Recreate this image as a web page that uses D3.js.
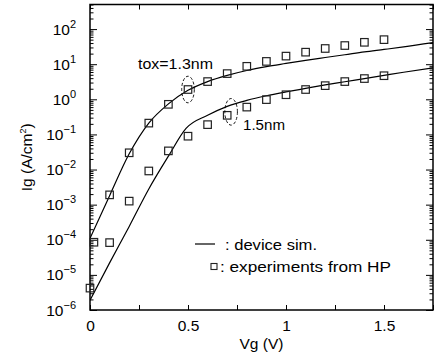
<!DOCTYPE html>
<html><head><meta charset="utf-8">
<script src="https://cdn.jsdelivr.net/npm/d3@7"></script>
<style>
body{margin:0;background:#fff}
svg{display:block}
text{font-family:"Liberation Sans",Arial,Helvetica,sans-serif;fill:#000}
</style>
</head><body>
<svg id="c" width="434" height="358"></svg>
<script>
// ---- data ----
const expVg13 = [0.02, 0.1, 0.2, 0.3, 0.4, 0.5, 0.6, 0.7, 0.8, 0.9, 1.0, 1.1, 1.2, 1.3, 1.4, 1.5];
const expIg13 = [8.5e-5, 1.9e-3, 0.030, 0.21, 0.72, 1.9, 3.2, 5.4, 8.7, 12, 17, 22, 28, 34, 42, 50];
const expVg15 = [0, 0.1, 0.2, 0.3, 0.4, 0.5, 0.6, 0.7, 0.8, 0.9, 1.0, 1.1, 1.2, 1.3, 1.4, 1.5];
const expIg15 = [4.2e-6, 8.3e-5, 1.26e-3, 9.1e-3, 0.034, 0.089, 0.19, 0.35, 0.60, 0.98, 1.35, 1.9, 2.45, 3.2, 3.9, 4.7];
const simVg13 = [0, 0.1, 0.2, 0.3, 0.4, 0.5, 0.6, 0.7, 0.8, 0.9, 1.0, 1.1, 1.2, 1.3, 1.4, 1.5, 1.6, 1.75];
const simIg13 = [1.1e-4, 1.8e-3, 0.028, 0.21, 0.74, 1.8, 3.2, 4.8, 6.6, 8.5, 10.5, 12.9, 15.5, 18.6, 22.4, 26.3, 31, 41];
const simVg15 = [0, 0.1, 0.2, 0.3, 0.4, 0.49, 0.6, 0.7, 0.8, 0.9, 1.0, 1.1, 1.2, 1.3, 1.4, 1.5, 1.6, 1.75];
const simIg15 = [1.9e-6, 2.2e-5, 2.4e-4, 2.8e-3, 0.024, 0.148, 0.35, 0.63, 0.93, 1.26, 1.62, 2.04, 2.57, 3.16, 3.9, 4.8, 5.9, 7.9];
const xTicks = [0, 0.25, 0.5, 0.75, 1, 1.25, 1.5, 1.75];
const xTickLabels = ["0", "", "0.5", "", "1", "", "1.5", ""];
const yDecades = [-6, -5, -4, -3, -2, -1, 0, 1, 2];
const labels = {tox13: "tox=1.3nm", tox15: "1.5nm", sim: ": device sim.", exp: ": experiments from HP",
  xTitle: "Vg (V)", yTitle: "Ig (A/cm", yTitleSup: "2", yTitleEnd: ")"};
const ellipses = [{vg: 0.5, ig: 1.9}, {vg: 0.72, ig: 0.44}];

// ---- layout ----
const svg = d3.select("#c");
const L = 90, R = 433, T = 4.5, B = 310;
const x = d3.scaleLinear().domain([0, 1.75]).range([L, R]);
const y = d3.scaleLog().domain([1e-6, Math.pow(10, 2.7)]).range([B, T]);

const yMajor = yDecades.map(e => Math.pow(10, e));
const yMinor = [];
yDecades.forEach(e => { for (let k = 2; k <= 9; k++) { const v = k * Math.pow(10, e); if (v <= y.domain()[1]) yMinor.push(v); } });

svg.append("defs").append("clipPath").attr("id", "clip")
  .append("rect").attr("x", L).attr("y", T).attr("width", R - L).attr("height", B - T);

// x axes
const gx = svg.append("g").attr("transform", `translate(0,${B})`)
  .call(d3.axisBottom(x).tickValues(xTicks).tickSizeInner(-5).tickSizeOuter(0).tickPadding(10)
    .tickFormat((d, i) => xTickLabels[i]));
gx.selectAll("text").attr("font-size", 15.5).attr("dy", "0.71em");
svg.append("g").attr("transform", `translate(0,${T})`)
  .call(d3.axisTop(x).tickValues(xTicks).tickSizeInner(-5).tickSizeOuter(0).tickFormat(""));

// y axes: minor then major
function yAxes(g, axisFn) {
  g.append("g").call(axisFn(y).tickValues(yMinor).tickSizeInner(-3.5).tickSizeOuter(0).tickFormat(""));
  g.append("g").call(axisFn(y).tickValues(yMajor).tickSizeInner(-7).tickSizeOuter(0).tickFormat(""));
}
yAxes(svg.append("g").attr("transform", `translate(${L},0)`), d3.axisLeft);
yAxes(svg.append("g").attr("transform", `translate(${R},0)`), d3.axisRight);
svg.selectAll(".domain").remove();
svg.selectAll(".tick line").attr("stroke", "#000").attr("stroke-width", 1);

// y labels
const yl = svg.append("g");
yDecades.forEach(e => {
  const t = yl.append("text").attr("x", L - 14).attr("y", y(Math.pow(10, e)) + 5.5)
    .attr("text-anchor", "end").attr("font-size", 15.5);
  t.append("tspan").text("10");
  t.append("tspan").attr("dy", -7).attr("font-size", 11).text(e < 0 ? "\u2212" + (-e) : String(e));
});

// frame
svg.append("rect").attr("x", L).attr("y", T).attr("width", R - L).attr("height", B - T)
  .attr("fill", "none").attr("stroke", "#000").attr("stroke-width", 1.5);

// sim lines
const line = d3.line().x(d => x(d[0])).y(d => y(d[1])).curve(d3.curveMonotoneX);
const plot = svg.append("g").attr("clip-path", "url(#clip)");
[[simVg13, simIg13], [simVg15, simIg15]].forEach(([vx, vy]) => {
  plot.append("path").datum(vx.map((v, i) => [v, vy[i]])).attr("d", line)
    .attr("fill", "none").attr("stroke", "#000").attr("stroke-width", 1.2);
});

// experimental squares
const s = 7.5;
[[expVg13, expIg13], [expVg15, expIg15]].forEach(([vx, vy]) => {
  svg.append("g").selectAll("rect").data(vx.map((v, i) => [v, vy[i]])).join("rect")
    .attr("x", d => x(d[0]) - s / 2).attr("y", d => y(d[1]) - s / 2)
    .attr("width", s).attr("height", s)
    .attr("fill", "none").attr("stroke", "#222").attr("stroke-width", 1.2);
});

// dashed ellipses
ellipses.forEach(e => {
  svg.append("ellipse").attr("cx", x(e.vg)).attr("cy", y(e.ig)).attr("rx", 6.3).attr("ry", 13.3)
    .attr("fill", "none").attr("stroke", "#000").attr("stroke-width", 0.9).attr("stroke-dasharray", "3,2");
});

// annotations
svg.append("text").attr("x", 138).attr("y", 69).attr("font-size", 15.5)
  .attr("textLength", 75).attr("lengthAdjust", "spacingAndGlyphs").text(labels.tox13);
svg.append("text").attr("x", 243).attr("y", 130).attr("font-size", 15.5)
  .attr("textLength", 42).attr("lengthAdjust", "spacingAndGlyphs").text(labels.tox15);

// legend
svg.append("line").attr("x1", 195).attr("x2", 215).attr("y1", 244).attr("y2", 244).attr("stroke", "#000").attr("stroke-width", 1.2);
svg.append("text").attr("x", 225).attr("y", 249.5).attr("font-size", 15.5)
  .attr("textLength", 92).attr("lengthAdjust", "spacingAndGlyphs").text(labels.sim);
svg.append("rect").attr("x", 211).attr("y", 263.5).attr("width", 6).attr("height", 6)
  .attr("fill", "none").attr("stroke", "#222").attr("stroke-width", 1.1);
svg.append("text").attr("x", 220).attr("y", 272).attr("font-size", 15.5)
  .attr("textLength", 171).attr("lengthAdjust", "spacingAndGlyphs").text(labels.exp);

// axis titles
svg.append("text").attr("x", (L + R) / 2).attr("y", 349).attr("text-anchor", "middle").attr("font-size", 15.5).text(labels.xTitle);
const yt = svg.append("text").attr("transform", `translate(32,${(T + B) / 2}) rotate(-90)`)
  .attr("text-anchor", "middle").attr("font-size", 15.5);
yt.append("tspan").text(labels.yTitle);
yt.append("tspan").attr("dy", -6).attr("font-size", 9).text(labels.yTitleSup);
yt.append("tspan").attr("dy", 6).text(labels.yTitleEnd);
</script>
</body></html>
